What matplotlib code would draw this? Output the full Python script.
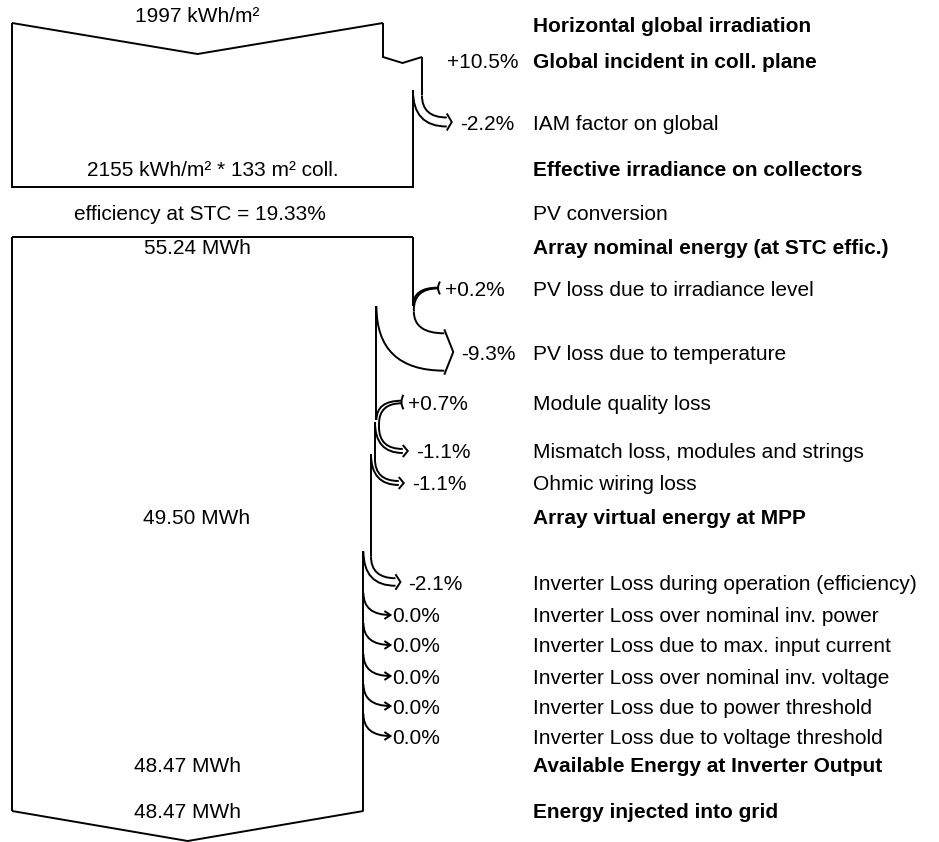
import matplotlib
matplotlib.use('Agg')
import matplotlib.pyplot as plt
from matplotlib.path import Path
from matplotlib.patches import PathPatch

# ---------------- data ----------------
row_labels = [
    "Horizontal global irradiation",
    "Global incident in coll. plane",
    "IAM factor on global",
    "Effective irradiance on collectors",
    "PV conversion",
    "Array nominal energy (at STC effic.)",
    "PV loss due to irradiance level",
    "PV loss due to temperature",
    "Module quality loss",
    "Mismatch loss, modules and strings",
    "Ohmic wiring loss",
    "Array virtual energy at MPP",
    "Inverter Loss during operation (efficiency)",
    "Inverter Loss over nominal inv. power",
    "Inverter Loss due to max. input current",
    "Inverter Loss over nominal inv. voltage",
    "Inverter Loss due to power threshold",
    "Inverter Loss due to voltage threshold",
    "Available Energy at Inverter Output",
    "Energy injected into grid",
]
row_bold = [True, True, False, True, False, True, False, False, False, False,
            False, True, False, False, False, False, False, False, True, True]

irr_horizontal = 1997      # kWh/m2
irr_effective = 2155       # kWh/m2
coll_area = 133            # m2
stc_efficiency = 19.33     # %
gain_global_pct = 10.5
iam_pct = -2.2
e_nominal = 55.24          # MWh
array_pcts = [0.2, -9.3, 0.7, -1.1, -1.1]
e_virtual = 49.50
inverter_pcts = [-2.1, 0.0, 0.0, 0.0, 0.0, 0.0]
e_available = 48.47
e_grid = 48.47

# ---------------- layout ----------------
row_y = [25, 60, 123, 168, 212, 247, 288, 352, 402, 451, 483, 517,
         582, 615, 645, 676, 706, 736, 765, 810]
X0 = 12
W1 = 371.0   # px for horizontal irradiation
W2 = 401.0   # px for nominal energy
LABEL_X = 533
FS = 15.0
LW = 1.4
FONT = "Liberation Sans"

fig = plt.figure(figsize=(9.39, 8.42), dpi=100)
ax = fig.add_axes([0, 0, 1, 1])
ax.set_xlim(0, 939)
ax.set_ylim(842, 0)
ax.axis('off')


def line(pts):
    xs, ys = zip(*pts)
    ax.plot(xs, ys, color='black', lw=LW, solid_joinstyle='miter',
            solid_capstyle='butt')


def qcurve(p0, c, p1):
    path = Path([p0, c, p1], [Path.MOVETO, Path.CURVE3, Path.CURVE3])
    ax.add_patch(PathPatch(path, fill=False, edgecolor='black', lw=LW))


def text(x, y, s, ha='left', bold=False):
    ax.text(x, y + 7.5, s, ha=ha, va='baseline', fontsize=FS,
            fontweight='bold' if bold else 'normal', family=FONT)


def pct_str(p):
    if abs(p) < 1e-9:
        return "0.0%"
    return ("+%.1f%%" % p) if p > 0 else ("%.1f%%" % p)


def draw_loss(x_out, w, yt):
    """Loss ribbon leaving right edge at x_out with width w."""
    y0 = yt - 22 - w / 2
    x_in = x_out - w
    xb = x_out + 23 + w * 0.2
    if w < 0.5:
        xt = xb + 4
        qcurve((x_out, y0), (x_out, yt), (xt, yt))
        line([(xt - 6, yt - 4), (xt, yt), (xt - 6, yt + 4)])
        return x_out, y0, xt + 2
    xt = xb + 9 if w > 10 else xb + 5
    qcurve((x_out, y0), (x_out, yt - w / 2), (xb, yt - w / 2))
    qcurve((x_in, y0 - 5), (x_in, yt + w / 2), (xb, yt + w / 2))
    line([(xb, yt - w / 2 - 4), (xt, yt), (xb, yt + w / 2 + 4)])
    return x_in, y0 - 5, xt + 8


def draw_gain(x_old, w, yc):
    x_new = x_old + w
    xt = x_old + 25
    yj = yc + 18
    qcurve((xt, yc - w / 2), (x_old, yc - w / 2), (x_old, yj))
    qcurve((xt, yc + w / 2), (x_new, yc + w / 2), (x_new, yj + 4))
    qcurve((xt + 2, yc - w / 2 - 6), (xt - 2, yc), (xt + 2, yc + w / 2 + 6))
    return x_new, yj, yj + 4, xt + 7


# ---------------- right-hand labels ----------------
for lab, b, y in zip(row_labels, row_bold, row_y):
    text(LABEL_X, y, lab, bold=b)

# ---------------- section 1: irradiance ----------------
top1 = 23
bot1 = 187
x_r = X0 + W1
mid1 = (X0 + x_r) / 2
line([(X0, top1), (mid1, top1 + 31), (x_r, top1)])
# global gain notch
yg = row_y[1] - 3
x_g = x_r + W1 * gain_global_pct / 100
line([(x_r, top1), (x_r, yg), ((x_r + x_g) / 2, yg + 6), (x_g, yg)])
text(x_r + 64, row_y[1], pct_str(gain_global_pct))
# IAM loss
w_iam = (x_g - X0) * abs(iam_pct) / 100
x_new, y_new, lx = draw_loss(x_g, w_iam, row_y[2] - 1)
line([(x_g, yg), (x_g, row_y[2] - 1 - 22 - w_iam / 2)])
text(lx, row_y[2], pct_str(iam_pct))
line([(x_new, y_new), (x_new, bot1), (X0, bot1), (X0, top1)])
text(mid1, 14, "%d kWh/m²" % irr_horizontal, ha='center')
text((X0 + x_new) / 2, row_y[3], "%d kWh/m² * %d m² coll." % (irr_effective, coll_area), ha='center')
text(200, row_y[4], "efficiency at STC = %.2f%%" % stc_efficiency, ha='center')

# ---------------- section 2: energy ----------------
top2 = 237
bot2 = 811
cur_x = X0 + W2
line([(X0, top2), (cur_x, top2)])
cur_y = top2
text(197, row_y[5], "%.2f MWh" % e_nominal, ha='center')

events = [(p, row_y[6 + i]) for i, p in enumerate(array_pcts)] + \
         [(p, row_y[12 + i]) for i, p in enumerate(inverter_pcts)]
for p, y in events:
    width = cur_x - X0
    w = width * abs(p) / 100
    if p > 0:
        x_new, yj, y_after, lx = draw_gain(cur_x, w, y)
        line([(cur_x, cur_y), (cur_x, yj)])
        cur_x, cur_y = x_new, y_after
        text(lx, y, pct_str(p))
    else:
        y0 = y - 22 - w / 2
        if y0 > cur_y:
            line([(cur_x, cur_y), (cur_x, y0)])
            cur_y = y0
        x_new, y_new, lx = draw_loss(cur_x, w, y)
        if w >= 0.5:
            cur_x, cur_y = x_new, y_new
        text(lx, y, pct_str(p))

line([(cur_x, cur_y), (cur_x, bot2)])
line([(X0, top2), (X0, bot2)])
mid2 = (X0 + cur_x) / 2
line([(X0, bot2), (mid2, bot2 + 30), (cur_x, bot2)])
text(197, row_y[11], "%.2f MWh" % e_virtual, ha='center')
text(mid2, row_y[18], "%.2f MWh" % e_available, ha='center')
text(mid2, row_y[19], "%.2f MWh" % e_grid, ha='center')

fig.savefig("out.png", dpi=100)
